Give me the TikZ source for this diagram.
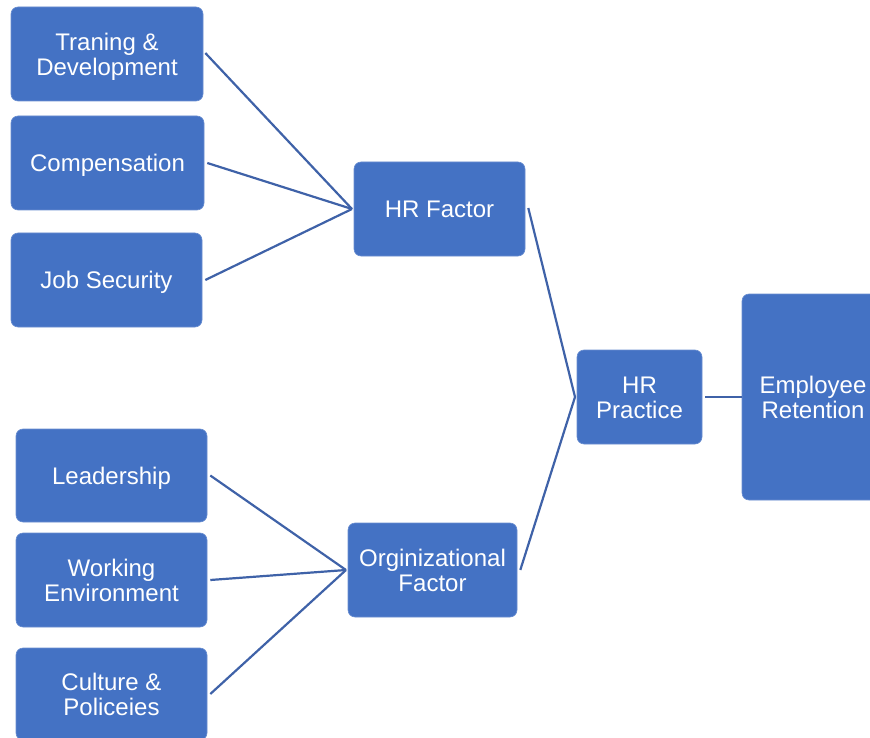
\documentclass[tikz,border=0pt]{standalone}
\usepackage{fontspec}
\setmainfont{Liberation Sans}
\definecolor{boxblue}{HTML}{4472C4}
\definecolor{lineblue}{HTML}{3F62A8}
\newcommand\boxlbl[1]{\raisebox{-3.8pt}[\height][\depth]{\begin{tabular}{@{}c@{}}#1\end{tabular}}}
\begin{document}
\begin{tikzpicture}[x=1pt,y=-1pt,
  box/.style={rectangle, rounded corners=7pt, fill=boxblue, draw=boxblue!80!white, line width=0.6pt,
    text=white, inner sep=0pt, font=\fontsize{24}{25}\selectfont},
  link/.style={draw=lineblue, line width=2.2pt}]
\useasboundingbox (0,0) rectangle (870,738);
\clip (0,0) rectangle (870,738);
% left column top
\node[box, minimum width=192pt, minimum height=94pt] (td) at (107,54) {\boxlbl{Traning \&\\Development}};
\node[box, minimum width=193pt, minimum height=94pt] (comp) at (107.5,163) {\boxlbl{Compensation}};
\node[box, minimum width=191pt, minimum height=94pt] (job) at (106.5,280) {\boxlbl{Job Security}};
% left column bottom
\node[box, minimum width=191pt, minimum height=93pt] (lead) at (111.5,475.5) {\boxlbl{Leadership}};
\node[box, minimum width=191pt, minimum height=94pt] (work) at (111.5,580) {\boxlbl{Working\\Environment}};
\node[box, minimum width=191pt, minimum height=92pt] (cult) at (111.5,694) {\boxlbl{Culture \&\\Policeies}};
% middle
\node[box, minimum width=171pt, minimum height=94pt] (hrf) at (439.5,209) {\boxlbl{HR Factor}};
\node[box, minimum width=169pt, minimum height=94pt] (org) at (432.5,570) {\boxlbl{Orginizational\\Factor}};
\node[box, minimum width=125pt, minimum height=94pt] (hrp) at (639.5,397) {\boxlbl{HR\\Practice}};
\node[box, minimum width=142pt, minimum height=206pt] (emp) at (813,397) {\boxlbl{Employee\\Retention}};
% anchor points
\coordinate (hrfin) at (352,209);
\coordinate (orgin) at (346,570);
\coordinate (hrpin) at (575,397);
% connectors
\draw[link] ([xshift=2pt,yshift=1pt]td.east) -- (hrfin);
\draw[link] ([xshift=3pt]comp.east) -- (hrfin);
\draw[link] ([xshift=3pt]job.east) -- (hrfin);
\draw[link] ([xshift=3pt,yshift=1pt]hrf.east) -- (hrpin);
\draw[link] ([xshift=3pt]org.east) -- (hrpin);
\draw[link] ([xshift=3pt]hrp.east) -- (emp.west);
\draw[link] ([xshift=3pt]lead.east) -- (orgin);
\draw[link] ([xshift=3pt]work.east) -- (orgin);
\draw[link] ([xshift=3pt]cult.east) -- (orgin);
\end{tikzpicture}
\end{document}
